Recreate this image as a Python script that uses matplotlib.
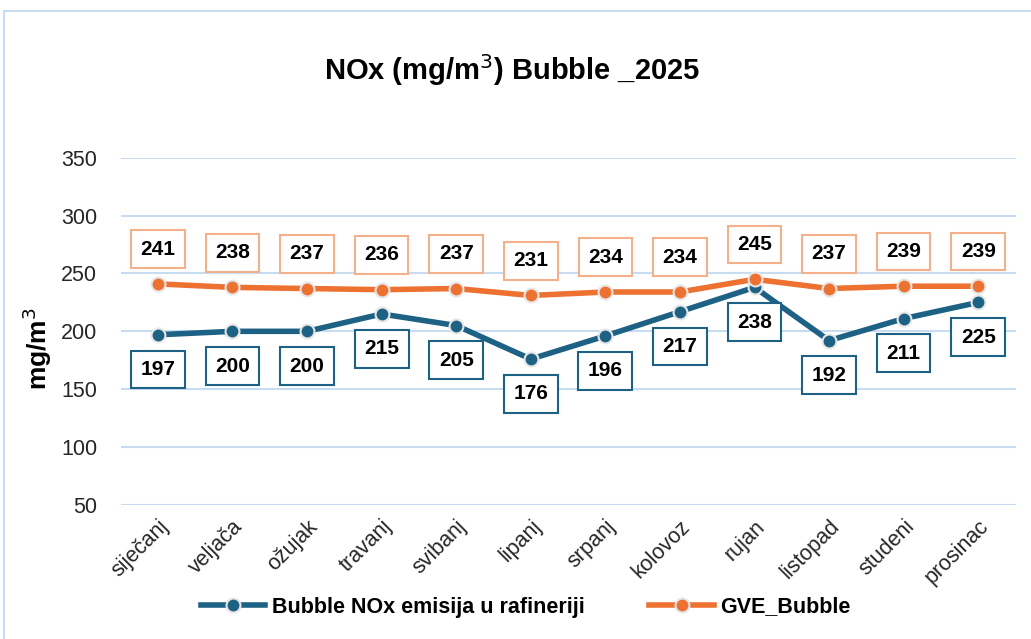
import matplotlib.pyplot as plt
from matplotlib.patches import Rectangle

months = ["siječanj", "veljača", "ožujak", "travanj", "svibanj", "lipanj",
          "srpanj", "kolovoz", "rujan", "listopad", "studeni", "prosinac"]
bubble = [197, 200, 200, 215, 205, 176, 196, 217, 238, 192, 211, 225]
gve = [241, 238, 237, 236, 237, 231, 234, 234, 245, 237, 239, 239]

blue = "#1d6184"
orange = "#ed7131"
grid_c = "#c8dcf1"

plt.rcParams['font.family'] = ['Liberation Sans', 'DejaVu Sans']

fig = plt.figure(figsize=(10.31, 6.39), dpi=100)
ax = fig.add_axes([0.117, 0.21, 0.868, 0.543])

# outer chart border
fig.patches.append(Rectangle((4/1031, -0.05), 1.1, 1 - 11/639 + 0.05,
                             transform=fig.transFigure, fill=False,
                             edgecolor=grid_c, lw=1.5))

x = list(range(len(months)))
ax.plot(x, bubble, color=blue, lw=4, marker='o', ms=10, mfc=blue,
        mec="#e6e6e6", mew=1.5, label="Bubble NOx emisija u rafineriji", zorder=3)
ax.plot(x, gve, color=orange, lw=4, marker='o', ms=10, mfc=orange,
        mec="#e6e6e6", mew=1.5, label="GVE_Bubble", zorder=3)

for i in x:
    ax.annotate(str(gve[i]), (i, gve[i]), xytext=(0, 25), textcoords='offset points',
                ha='center', va='center', fontsize=15, fontweight='bold',
                bbox=dict(boxstyle='square,pad=0.45', fc='white', ec="#f4b08a", lw=1.5),
                zorder=4)
    ax.annotate(str(bubble[i]), (i, bubble[i]), xytext=(0, -25), textcoords='offset points',
                ha='center', va='center', fontsize=15, fontweight='bold',
                bbox=dict(boxstyle='square,pad=0.45', fc='white', ec=blue, lw=1.5),
                zorder=4)

ax.set_xlim(-0.5, 11.5)
ax.set_ylim(50, 350)
ax.set_yticks([50, 100, 150, 200, 250, 300, 350])
ax.set_xticks(x)
ax.set_xticklabels(months, rotation=45, ha='right', rotation_mode='anchor', fontsize=15.5)
ax.tick_params(axis='y', labelsize=15.5, length=0, pad=17, labelcolor="#262626")
ax.tick_params(axis='x', length=0, pad=8, labelcolor="#262626")
ax.grid(axis='y', color=grid_c, lw=1.5)
ax.set_axisbelow(True)
for s in ax.spines.values():
    s.set_visible(False)

fig.text(0.036, 0.455, "mg/m$^3$", rotation=90, ha='center', va='center',
         fontsize=19, fontweight='bold')
fig.text(0.497, 0.89, "NOx (mg/m$^3$) Bubble _2025", ha='center', va='center',
         fontsize=21, fontweight='bold')

fig.legend(loc='center', bbox_to_anchor=(0.51, 0.05), ncol=2, frameon=False,
           prop=dict(weight='bold', size=15.5), handlelength=3,
           columnspacing=3, handletextpad=0.3)

fig.savefig("out.png", dpi=100)
